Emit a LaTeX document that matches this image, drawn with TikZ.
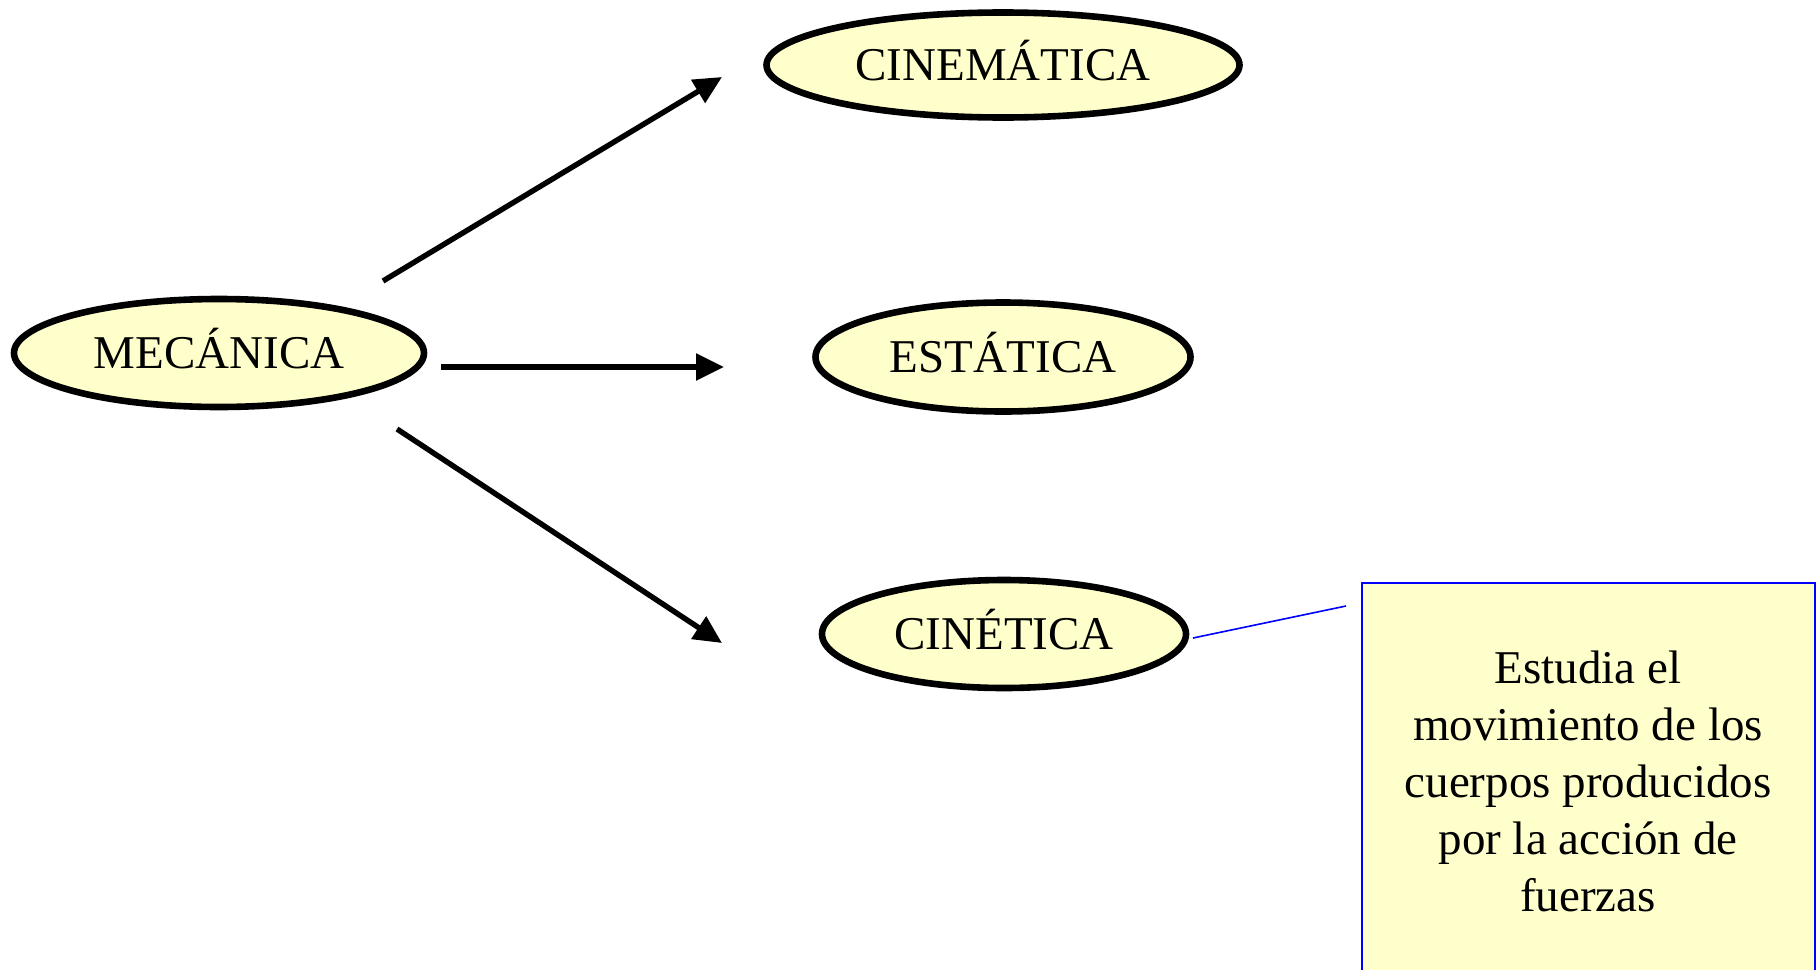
\documentclass[tikz,border=0pt]{standalone}
\usepackage{fontspec}
\setmainfont{Liberation Serif}
\usetikzlibrary{shapes.geometric,arrows.meta}
\definecolor{paleyellow}{HTML}{FFFFCC}
\tikzset{
  topic/.style={ellipse, draw=black, line width=3.3pt, fill=paleyellow, inner sep=0pt,
    text height=15.5pt, text depth=0pt, font=\fontsize{23.5}{28.5}\selectfont},
  branch/.style={line width=2.7pt, -{Triangle[length=14pt,width=13pt]}},
  callout/.style={draw=blue, line width=0.8pt},
  notebox/.style={rectangle, draw=blue, line width=1pt, fill=paleyellow,
    align=center, inner sep=0pt, font=\fontsize{23.5}{28.5}\selectfont}
}
\begin{document}
\begin{tikzpicture}[x=0.5pt,y=-0.5pt]
\useasboundingbox (0,0) rectangle (1820,969);
\begin{scope}
\clip (0,0) rectangle (1820,969);

% main topic and its three branches
\node[topic, minimum width=205pt, minimum height=54pt] (mec) at (219,353) {MECÁNICA};
\node[topic, minimum width=236.5pt, minimum height=52.5pt] (cinem) at (1003,65) {CINEMÁTICA};
\node[topic, minimum width=187.5pt, minimum height=54.5pt] (est) at (1003,357) {ESTÁTICA};
\node[topic, minimum width=182pt, minimum height=54pt] (cinet) at (1004,634) {CINÉTICA};

% arrow end points, kept clear of the ellipses
\coordinate (a1s) at (383,281);
\coordinate (a1e) at (722,77);
\coordinate (a2s) at (441,367);
\coordinate (a2e) at (724,367);
\coordinate (a3s) at (397,429);
\coordinate (a3e) at (722,643);

\draw[branch] (a1s) -- (a1e);
\draw[branch] (a2s) -- (a2e);
\draw[branch] (a3s) -- (a3e);

% note on kinetics
\node[notebox, minimum width=226.5pt, minimum height=198pt] (note) at (1588,781)
  {Estudia el\\movimiento de los\\cuerpos producidos\\por la acción de\\fuerzas};
\coordinate (c1) at (1193,638);
\coordinate (c2) at (1346,606);
\draw[callout] (c1) -- (c2);
\end{scope}
\end{tikzpicture}
\end{document}
